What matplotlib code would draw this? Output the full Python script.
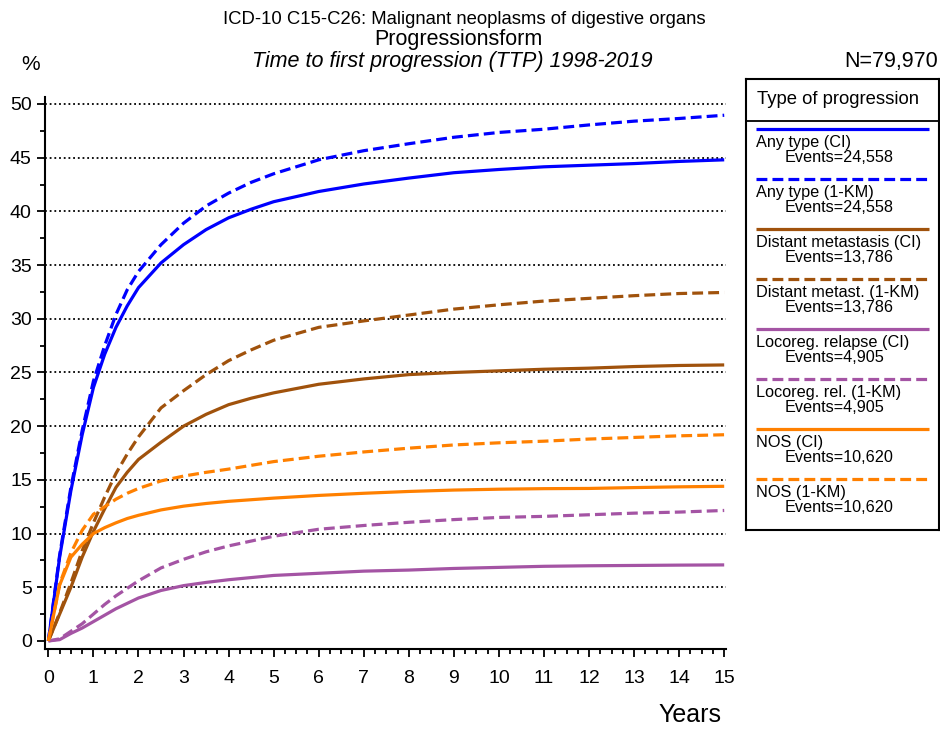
import matplotlib
matplotlib.use('Agg')
import matplotlib.pyplot as plt
from matplotlib.ticker import MultipleLocator

plt.rcParams['font.family'] = ['Liberation Sans', 'DejaVu Sans']

# time points (years)
years = [0, 0.25, 0.5, 0.75, 1, 1.25, 1.5, 1.75, 2, 2.5, 3, 3.5, 4, 4.5, 5,
         6, 7, 8, 9, 10, 11, 12, 13, 14, 15]

any_ci = [0, 7.8, 14.0, 19.2, 23.6, 26.7, 29.2, 31.2, 32.9, 35.2, 36.9, 38.3, 39.4, 40.2, 40.9,
          41.85, 42.55, 43.1, 43.6, 43.9, 44.15, 44.3, 44.45, 44.65, 44.8]
any_km = [0, 8.0, 14.3, 19.6, 24.2, 27.5, 30.4, 32.7, 34.4, 36.9, 38.9, 40.5, 41.7, 42.7, 43.5,
          44.8, 45.65, 46.3, 46.9, 47.35, 47.65, 48.05, 48.4, 48.65, 48.95]
dist_ci = [0, 2.5, 5.0, 7.8, 10.2, 12.3, 14.3, 15.7, 16.9, 18.5, 20.0, 21.1, 22.0, 22.6, 23.1,
           23.9, 24.4, 24.8, 25.0, 25.15, 25.3, 25.4, 25.55, 25.65, 25.7]
dist_km = [0, 2.6, 5.4, 8.4, 11.0, 13.4, 15.6, 17.4, 19.0, 21.7, 23.3, 24.8, 26.1, 27.1, 28.0,
           29.2, 29.8, 30.35, 30.9, 31.3, 31.65, 31.9, 32.15, 32.35, 32.45]
loco_ci = [0, 0.12, 0.7, 1.2, 1.8, 2.4, 3.0, 3.5, 4.0, 4.7, 5.15, 5.45, 5.7, 5.9, 6.1,
           6.3, 6.5, 6.6, 6.75, 6.85, 6.95, 7.0, 7.03, 7.06, 7.08]
loco_km = [0, 0.2, 0.9, 1.6, 2.5, 3.4, 4.2, 4.9, 5.6, 6.8, 7.6, 8.3, 8.85, 9.3, 9.75,
           10.4, 10.75, 11.05, 11.3, 11.5, 11.6, 11.75, 11.9, 12.0, 12.15]
nos_ci = [0, 5.2, 7.8, 9.0, 10.0, 10.55, 11.0, 11.4, 11.7, 12.2, 12.55, 12.8, 13.0, 13.15, 13.3,
          13.55, 13.75, 13.92, 14.05, 14.13, 14.18, 14.2, 14.28, 14.35, 14.4]
nos_km = [0, 5.3, 8.2, 10.3, 11.8, 12.5, 13.2, 13.75, 14.2, 14.9, 15.35, 15.7, 16.0, 16.35, 16.7,
          17.2, 17.6, 17.95, 18.25, 18.45, 18.6, 18.8, 18.95, 19.1, 19.2]

labels = ['Any type (CI)', 'Any type (1-KM)', 'Distant metastasis (CI)',
          'Distant metast. (1-KM)', 'Locoreg. relapse (CI)', 'Locoreg. rel. (1-KM)',
          'NOS (CI)', 'NOS (1-KM)']
events = ['24,558', '24,558', '13,786', '13,786', '4,905', '4,905', '10,620', '10,620']
series = [any_ci, any_km, dist_ci, dist_km, loco_ci, loco_km, nos_ci, nos_km]
colors = ['#0000ff', '#0000ff', '#a0520c', '#a0520c', '#a454a4', '#a454a4',
          '#ff8000', '#ff8000']
dashed = [False, True, False, True, False, True, False, True]

DASH = (0, (3.4, 1.6))

fig = plt.figure(figsize=(9.4, 7.31), dpi=100)
ax = fig.add_axes([45 / 940, 1 - 649 / 731, (726 - 45) / 940, (649 - 97) / 731])

for vals, col, d in zip(series, colors, dashed):
    ax.plot(years, vals, color=col, lw=2.3, ls=DASH if d else '-',
            solid_capstyle='butt', dash_capstyle='butt', solid_joinstyle='round')

ax.set_xlim(-0.075, 15.04)
ax.set_ylim(-0.75, 50.65)
for v in range(5, 51, 5):
    ax.axhline(v, color='black', lw=1.3, ls=(0, (1, 1.6)), zorder=0)

ax.xaxis.set_major_locator(MultipleLocator(1))
ax.xaxis.set_minor_locator(MultipleLocator(0.25))
ax.yaxis.set_major_locator(MultipleLocator(5))
ax.yaxis.set_minor_locator(MultipleLocator(2.5))
ax.tick_params(which='both', direction='out', width=1.3, labelsize=14)
ax.tick_params(which='major', length=6)
ax.tick_params(which='minor', length=3.5)
ax.tick_params(axis='x', pad=9)
ax.spines['top'].set_visible(False)
ax.spines['right'].set_visible(False)
ax.spines['left'].set_linewidth(1.5)
ax.spines['bottom'].set_linewidth(1.5)

# titles and labels
fig.text(464 / 940, 1 - 19 / 731, 'ICD-10 C15-C26: Malignant neoplasms of digestive organs',
         ha='center', va='center', fontsize=13.3)
fig.text(458 / 940, 1 - 40 / 731, 'Progressionsform', ha='center', va='center', fontsize=15.5)
fig.text(452 / 940, 1 - 61 / 731, 'Time to first progression (TTP) 1998-2019',
         ha='center', va='center', fontsize=15.5, style='italic')
fig.text(31 / 940, 1 - 64 / 731, '%', ha='center', va='center', fontsize=15)
fig.text(938 / 940, 1 - 62 / 731, 'N=79,970', ha='right', va='center', fontsize=15.5)
fig.text(690 / 940, 1 - 715 / 731, 'Years', ha='center', va='center', fontsize=18)

# legend box drawn in pixel coordinates
lx0, lx1, ly0, ly1 = 746, 939, 79, 530
lg = fig.add_axes([lx0 / 940, 1 - ly1 / 731, (lx1 - lx0) / 940, (ly1 - ly0) / 731])
lg.set_xlim(lx0, lx1)
lg.set_ylim(ly1, ly0)
lg.set_xticks([])
lg.set_yticks([])
for s in lg.spines.values():
    s.set_linewidth(1.5)
lg.axhline(121, color='black', lw=1.3)
lg.text(757, 99, 'Type of progression', ha='left', va='center', fontsize=13.3)
for i, (lab, ev, col, d) in enumerate(zip(labels, events, colors, dashed)):
    y = 128.5 + 50 * i
    lg.plot([756, 929], [y, y], color=col, lw=2.3, ls=DASH if d else '-',
            solid_capstyle='butt', dash_capstyle='butt')
    lg.text(756, y + 14.5, lab, ha='left', va='center', fontsize=11.7)
    lg.text(785, y + 29, 'Events=' + ev, ha='left', va='center', fontsize=11.7)

fig.savefig('out.png', dpi=100)
